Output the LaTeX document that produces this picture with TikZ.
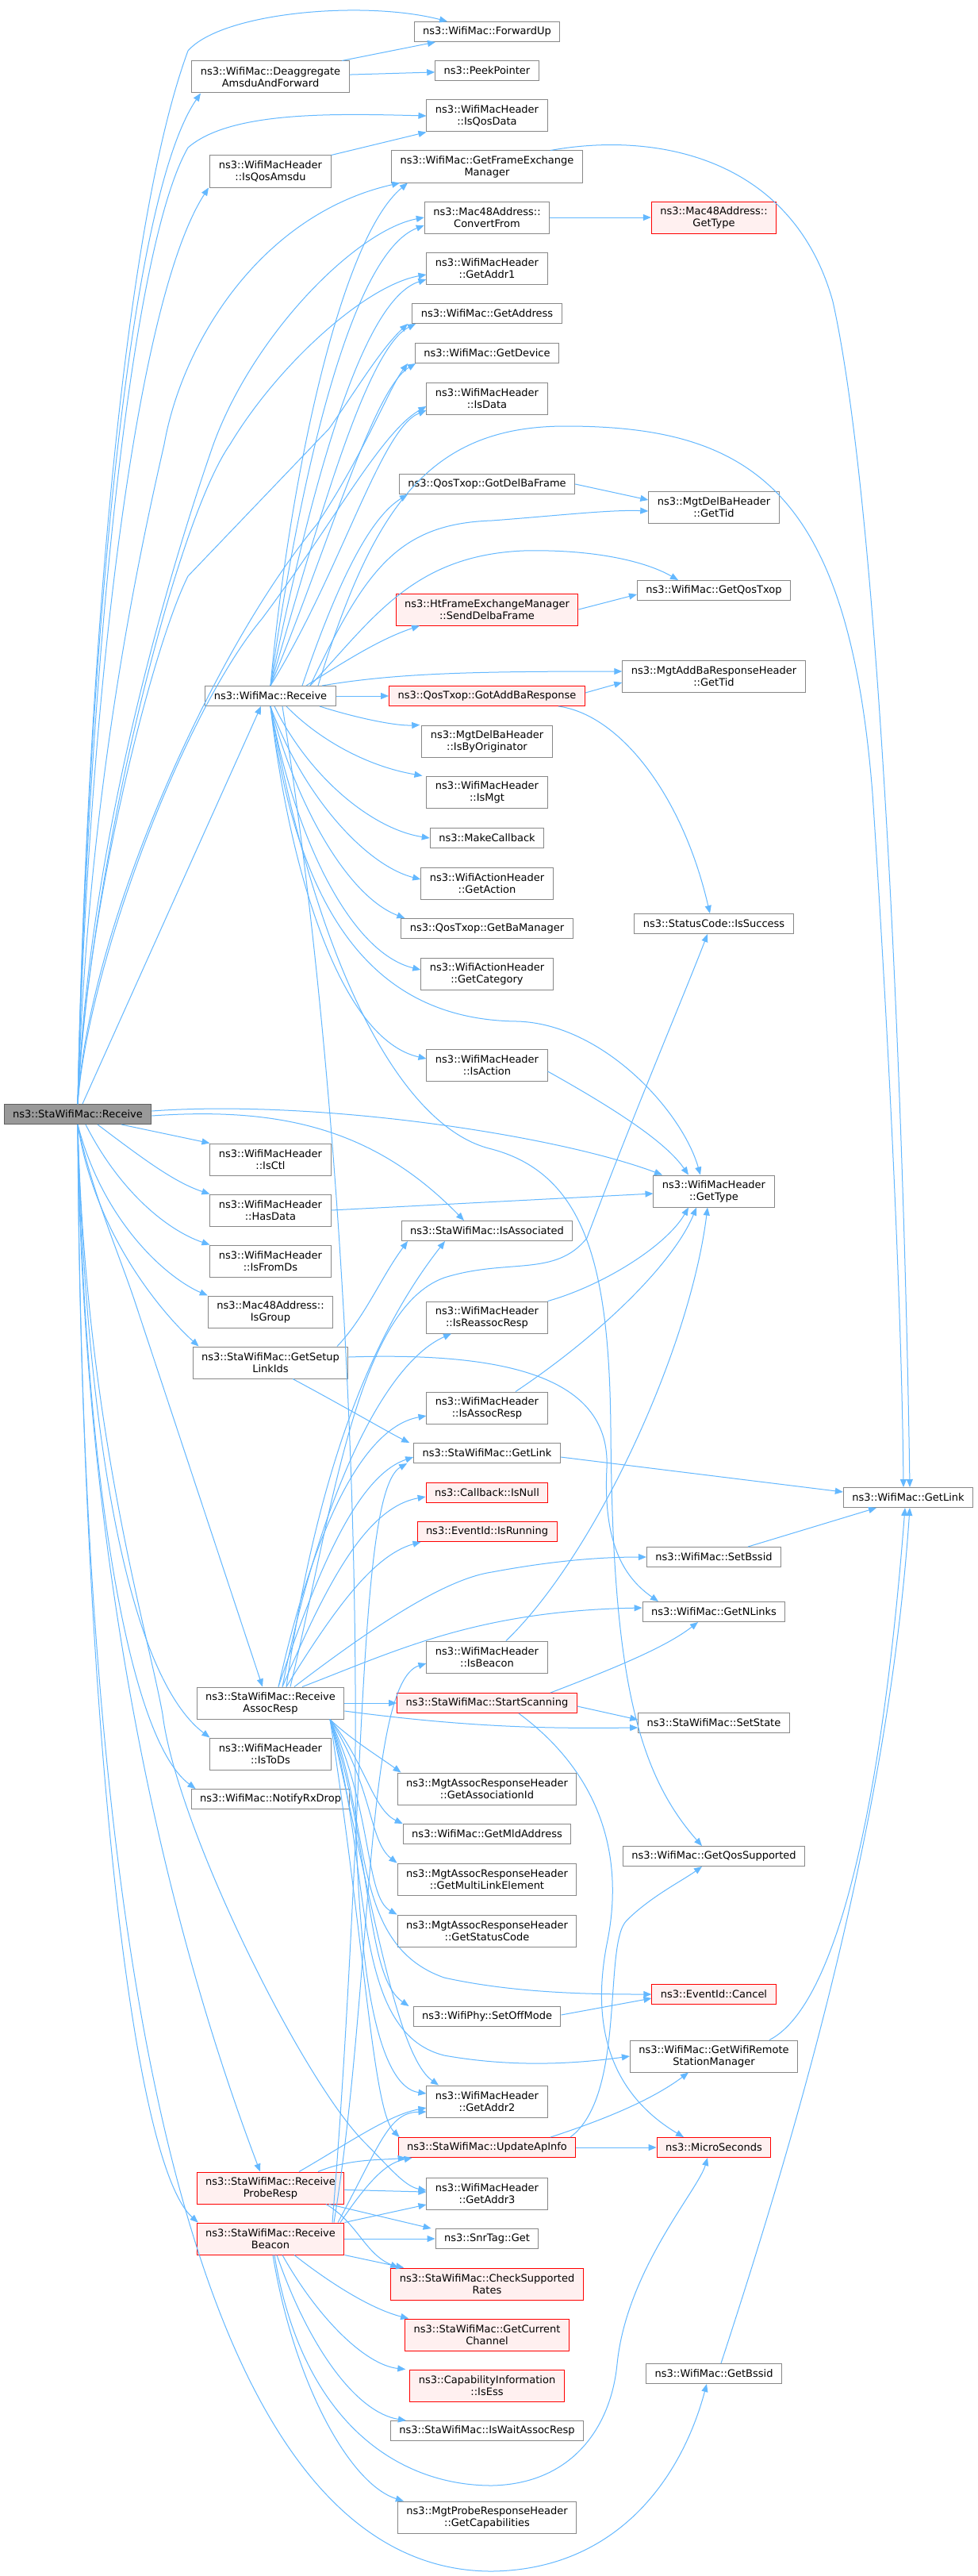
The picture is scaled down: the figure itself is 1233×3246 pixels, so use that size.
\documentclass[tikz,border=0pt]{standalone}
\usepackage{fontspec}
\setmainfont{DejaVu Sans}
\usetikzlibrary{arrows.meta}
\definecolor{edgeblue}{HTML}{63B8FF}
\definecolor{boxgray}{HTML}{888888}
\definecolor{rootgray}{HTML}{999999}
\definecolor{extfill}{HTML}{FFF0F0}
\begin{document}
\begin{tikzpicture}[x=1pt,y=1pt,
  fn/.style={draw=boxgray,fill=white,line width=1pt,inner xsep=11pt,inner ysep=4pt,
    minimum height=25pt,align=center,font=\fontsize{13}{15}\selectfont},
  tall/.style={minimum height=40pt},
  ext/.style={fn,draw=red,fill=extfill},
  rootfn/.style={fn,draw=boxgray!70!black,fill=rootgray},
  call/.style={draw=edgeblue,line width=1pt,-{Triangle[length=10pt,width=8pt]}}]

\fill[white] (0,0) rectangle (1233,-3246);
\useasboundingbox (0,0) rectangle (1233,-3246);

% the function itself
\node[rootfn] (root) at (98,-1404) {ns3::StaWifiMac::Receive};

% direct callees
\node[fn,tall] (deagg) at (341,-97) {ns3::WifiMac::Deaggregate\\AmsduAndForward};
\node[fn,tall] (qosAmsdu) at (341,-216) {ns3::WifiMacHeader\\::IsQosAmsdu};
\node[fn] (wmRecv) at (341,-877) {ns3::WifiMac::Receive};
\node[fn,tall] (isCtl) at (341,-1461) {ns3::WifiMacHeader\\::IsCtl};
\node[fn,tall] (hasData) at (341,-1525) {ns3::WifiMacHeader\\::HasData};
\node[fn,tall] (fromDs) at (341,-1589) {ns3::WifiMacHeader\\::IsFromDs};
\node[fn,tall] (isGroup) at (341,-1653) {ns3::Mac48Address::\\IsGroup};
\node[fn,tall] (setupLinks) at (341,-1717) {ns3::StaWifiMac::GetSetup\\LinkIds};
\node[fn,tall] (assocResp) at (341,-2146) {ns3::StaWifiMac::Receive\\AssocResp};
\node[fn,tall] (toDs) at (341,-2210) {ns3::WifiMacHeader\\::IsToDs};
\node[fn] (rxDrop) at (341,-2267) {ns3::WifiMac::NotifyRxDrop};
\node[ext,tall] (probeResp) at (341,-2757) {ns3::StaWifiMac::Receive\\ProbeResp};
\node[ext,tall] (beacon) at (341,-2821) {ns3::StaWifiMac::Receive\\Beacon};

% second level
\node[fn] (fwdUp) at (614,-40) {ns3::WifiMac::ForwardUp};
\node[fn] (peek) at (614,-89) {ns3::PeekPointer};
\node[fn,tall] (qosData) at (614,-146) {ns3::WifiMacHeader\\::IsQosData};
\node[fn,tall] (getFem) at (614,-210) {ns3::WifiMac::GetFrameExchange\\Manager};
\node[fn,tall] (convFrom) at (614,-274) {ns3::Mac48Address::\\ConvertFrom};
\node[fn,tall] (addr1) at (614,-338) {ns3::WifiMacHeader\\::GetAddr1};
\node[fn] (getAddress) at (614,-395) {ns3::WifiMac::GetAddress};
\node[fn] (getDevice) at (614,-445) {ns3::WifiMac::GetDevice};
\node[fn,tall] (isData) at (614,-502) {ns3::WifiMacHeader\\::IsData};
\node[fn] (gotDelBa) at (614,-610) {ns3::QosTxop::GotDelBaFrame};
\node[ext,tall] (sendDelba) at (614,-768) {ns3::HtFrameExchangeManager\\::SendDelbaFrame};
\node[ext] (gotAddBa) at (614,-877) {ns3::QosTxop::GotAddBaResponse};
\node[fn,tall] (isByOrig) at (614,-934) {ns3::MgtDelBaHeader\\::IsByOriginator};
\node[fn,tall] (isMgt) at (614,-998) {ns3::WifiMacHeader\\::IsMgt};
\node[fn] (makeCb) at (614,-1056) {ns3::MakeCallback};
\node[fn,tall] (getAction) at (614,-1113) {ns3::WifiActionHeader\\::GetAction};
\node[fn] (getBaMgr) at (614,-1170) {ns3::QosTxop::GetBaManager};
\node[fn,tall] (getCategory) at (614,-1227) {ns3::WifiActionHeader\\::GetCategory};
\node[fn,tall] (isAction) at (614,-1342) {ns3::WifiMacHeader\\::IsAction};
\node[fn] (isAssoc) at (614,-1551) {ns3::StaWifiMac::IsAssociated};
\node[fn,tall] (isReassoc) at (614,-1660) {ns3::WifiMacHeader\\::IsReassocResp};
\node[fn,tall] (isAssocResp) at (614,-1774) {ns3::WifiMacHeader\\::IsAssocResp};
\node[fn] (staGetLink) at (614,-1831) {ns3::StaWifiMac::GetLink};
\node[ext] (cbNull) at (614,-1881) {ns3::Callback::IsNull};
\node[ext] (isRunning) at (614,-1930) {ns3::EventId::IsRunning};
\node[fn,tall] (isBeacon) at (614,-2088) {ns3::WifiMacHeader\\::IsBeacon};
\node[ext] (startScan) at (614,-2146) {ns3::StaWifiMac::StartScanning};
\node[fn,tall] (assocId) at (614,-2254) {ns3::MgtAssocResponseHeader\\::GetAssociationId};
\node[fn] (mldAddr) at (614,-2311) {ns3::WifiMac::GetMldAddress};
\node[fn,tall] (multiLink) at (614,-2368) {ns3::MgtAssocResponseHeader\\::GetMultiLinkElement};
\node[fn,tall] (statusCode) at (614,-2433) {ns3::MgtAssocResponseHeader\\::GetStatusCode};
\node[fn] (setOff) at (614,-2541) {ns3::WifiPhy::SetOffMode};
\node[fn,tall] (addr2) at (614,-2648) {ns3::WifiMacHeader\\::GetAddr2};
\node[ext] (updateAp) at (614,-2706) {ns3::StaWifiMac::UpdateApInfo};
\node[fn,tall] (addr3) at (614,-2764) {ns3::WifiMacHeader\\::GetAddr3};
\node[fn] (snrGet) at (614,-2821) {ns3::SnrTag::Get};
\node[ext,tall] (checkRates) at (614,-2878) {ns3::StaWifiMac::CheckSupported\\Rates};
\node[ext,tall] (curChan) at (614,-2942) {ns3::StaWifiMac::GetCurrent\\Channel};
\node[ext,tall] (isEss) at (614,-3006) {ns3::CapabilityInformation\\::IsEss};
\node[fn] (waitAssoc) at (614,-3063) {ns3::StaWifiMac::IsWaitAssocResp};
\node[fn,tall] (probeCaps) at (614,-3172) {ns3::MgtProbeResponseHeader\\::GetCapabilities};

% third level
\node[ext,tall] (macGetType) at (900,-274) {ns3::Mac48Address::\\GetType};
\node[fn,tall] (delBaTid) at (900,-639) {ns3::MgtDelBaHeader\\::GetTid};
\node[fn] (getQosTxop) at (900,-744) {ns3::WifiMac::GetQosTxop};
\node[fn,tall] (addBaTid) at (900,-852) {ns3::MgtAddBaResponseHeader\\::GetTid};
\node[fn] (isSuccess) at (900,-1164) {ns3::StatusCode::IsSuccess};
\node[fn,tall] (getType) at (900,-1501) {ns3::WifiMacHeader\\::GetType};
\node[fn] (setBssid) at (900,-1962) {ns3::WifiMac::SetBssid};
\node[fn] (getNLinks) at (900,-2031) {ns3::WifiMac::GetNLinks};
\node[fn] (setState) at (900,-2171) {ns3::StaWifiMac::SetState};
\node[fn] (qosSupp) at (900,-2339) {ns3::WifiMac::GetQosSupported};
\node[ext] (evCancel) at (900,-2513) {ns3::EventId::Cancel};
\node[fn,tall] (remoteMgr) at (900,-2591) {ns3::WifiMac::GetWifiRemote\\StationManager};
\node[ext] (micro) at (900,-2706) {ns3::MicroSeconds};
\node[fn] (getBssid) at (900,-2991) {ns3::WifiMac::GetBssid};
\node[fn] (wmGetLink) at (1145,-1887) {ns3::WifiMac::GetLink};

% calls from the root, upwards
\draw[call] (root.north) .. controls (108,-900) and (150,-300) .. (237,-64) .. controls (280,-15) and (460,0) .. ([xshift=-50pt]fwdUp.north);
\draw[call] (root.north) .. controls (108,-900) and (155,-260) .. ([xshift=-88pt]deagg.south);
\draw[call] (root.north) .. controls (109,-900) and (160,-320) .. (237,-186) .. controls (290,-140) and (420,-143) .. (qosData.west);
\draw[call] (root.north) .. controls (110,-900) and (170,-380) .. ([xshift=-78pt]qosAmsdu.south);
\draw[call] (root.north) .. controls (110,-1000) and (175,-700) .. (207,-560) .. controls (230,-430) and (330,-270) .. ([xshift=-110pt]getFem.south);
\draw[call] (root.north) .. controls (112,-1050) and (220,-700) .. (269,-560) .. controls (320,-420) and (450,-290) .. (convFrom.west);
\draw[call] (root.north) .. controls (112,-1100) and (220,-660) .. (290,-560) .. controls (350,-460) and (460,-360) .. ([yshift=-8pt]addr1.west);
\draw[call] (root.north) .. controls (108,-1150) and (190,-820) .. (237,-726) -- (415,-540) .. controls (450,-490) and (480,-440) .. ([xshift=-100pt]getAddress.south);
\draw[call] (root.north) .. controls (110,-1180) and (260,-830) .. (400,-660) .. controls (460,-570) and (490,-490) .. ([xshift=-100pt]getDevice.south);
\draw[call] (root.north) .. controls (110,-1220) and (230,-900) .. (330,-780) .. controls (420,-660) and (480,-545) .. ([yshift=-10pt]isData.west);
\draw[call] ([xshift=6pt]root.north) -- ([xshift=-12pt]wmRecv.south);
\draw[call] ([yshift=4pt]root.east) .. controls (400,-1385) and (700,-1430) .. ([xshift=-65pt]getType.north);
\draw[call] ([yshift=-2pt]root.east) .. controls (350,-1395) and (470,-1420) .. ([xshift=-29pt]isAssoc.north);

% calls from the root, downwards
\draw[call] ([xshift=55pt]root.south) -- (isCtl.north west);
\draw[call] ([xshift=25pt]root.south) .. controls (180,-1460) and (220,-1490) .. (hasData.north west);
\draw[call] ([xshift=10pt]root.south) .. controls (150,-1500) and (210,-1550) .. (fromDs.north west);
\draw[call] (root.south) .. controls (130,-1540) and (210,-1610) .. (isGroup.north west);
\draw[call] (root.south) .. controls (120,-1560) and (210,-1660) .. ([xshift=8pt]setupLinks.north west);
\draw[call] (root.south) .. controls (115,-1500) and (150,-1580) .. (170,-1640) -- ([xshift=-10pt]assocResp.north);
\draw[call] (root.south) .. controls (108,-1800) and (160,-2110) .. (toDs.north west);
\draw[call] (root.south) .. controls (106,-1850) and (160,-2190) .. ([xshift=6pt]rxDrop.north west);
\draw[call] (root.south) .. controls (104,-1950) and (200,-2400) .. ([xshift=-13pt]probeResp.north);
\draw[call] (root.south) .. controls (102,-2100) and (160,-2720) .. ([xshift=2pt]beacon.north west);
\draw[call] (root.south) .. controls (108,-1800) and (185,-2050) .. (205,-2160) .. controls (222,-2300) and (380,-2620) .. (460,-2700) .. controls (490,-2730) and (510,-2755) .. ([yshift=4pt]addr3.west);
\draw[call] (root.south) .. controls (104,-2700) and (300,-3240) .. (620,-3240) .. controls (780,-3238) and (860,-3120) .. ([xshift=-9pt]getBssid.south);

% WifiMac::Receive
\draw[call] (wmRecv.north) .. controls (365,-600) and (430,-300) .. ([xshift=-100pt]getFem.south);
\draw[call] (wmRecv.north) .. controls (375,-620) and (440,-320) .. ([yshift=-10pt]convFrom.west);
\draw[call] (wmRecv.north) .. controls (385,-650) and (450,-380) .. ([yshift=-14pt]addr1.west);
\draw[call] (wmRecv.north) .. controls (395,-680) and (460,-440) .. ([xshift=-90pt]getAddress.south);
\draw[call] (wmRecv.north) .. controls (410,-700) and (470,-490) .. ([xshift=-90pt]getDevice.south);
\draw[call] (wmRecv.north) .. controls (430,-720) and (480,-540) .. ([yshift=-15pt]isData.west);
\draw[call] ([xshift=60pt]wmRecv.north) .. controls (470,-640) and (540,-537) .. (713,-537) .. controls (950,-537) and (1070,-620) .. (1100,-1000) .. controls (1120,-1300) and (1137,-1650) .. ([xshift=-6pt]wmGetLink.north);
\draw[call] ([xshift=40pt]wmRecv.north) .. controls (430,-720) and (470,-650) .. ([xshift=-100pt]gotDelBa.south);
\draw[call] ([xshift=50pt]wmRecv.north) .. controls (460,-720) and (500,-660) .. (620,-656) .. controls (700,-650) and (770,-642) .. ([yshift=-5pt]delBaTid.west);
\draw[call] ([xshift=50pt]wmRecv.north) .. controls (470,-780) and (520,-700) .. (660,-694) .. controls (740,-692) and (810,-705) .. ([xshift=-45pt]getQosTxop.north);
\draw[call] ([xshift=45pt]wmRecv.north) .. controls (440,-830) and (480,-805) .. ([xshift=-85pt]sendDelba.south);
\draw[call] ([xshift=65pt]wmRecv.north) .. controls (500,-848) and (600,-846) .. ([yshift=6pt]addBaTid.west);
\draw[call] (wmRecv) -- (gotAddBa);
\draw[call] ([xshift=62pt]wmRecv.south) .. controls (450,-905) and (500,-915) .. ([xshift=-2pt]isByOrig.north west);
\draw[call] ([xshift=20pt]wmRecv.south) .. controls (400,-930) and (460,-965) .. ([xshift=-5pt]isMgt.north west);
\draw[call] ([xshift=5pt]wmRecv.south) .. controls (390,-980) and (470,-1045) .. (makeCb.west);
\draw[call] (wmRecv.south) .. controls (380,-1000) and (460,-1090) .. ([yshift=5pt]getAction.west);
\draw[call] (wmRecv.south) .. controls (375,-1020) and (440,-1130) .. ([xshift=5pt]getBaMgr.north west);
\draw[call] (wmRecv.south) .. controls (370,-1050) and (440,-1200) .. ([yshift=5pt]getCategory.west);
\draw[call] (wmRecv.south) .. controls (365,-1100) and (430,-1310) .. ([yshift=8pt]isAction.west);
\draw[call] (wmRecv.south) .. controls (375,-1150) and (470,-1285) .. (652,-1287) .. controls (760,-1290) and (860,-1400) .. ([xshift=-17pt]getType.north);
\draw[call] (wmRecv.south) .. controls (395,-1200) and (500,-1420) .. (620,-1448) .. controls (740,-1480) and (768,-1600) .. (770,-1800) .. controls (772,-2100) and (800,-2230) .. ([xshift=-15pt]qosSupp.north);
\draw[call] ([xshift=15pt]wmRecv.south) .. controls (420,-1300) and (450,-1800) .. (448,-2200) .. controls (446,-2500) and (480,-2630) .. ([yshift=10pt]addr2.west);

% short calls
\draw[call] ([xshift=90pt]deagg.north) -- ([xshift=-65pt]fwdUp.south);
\draw[call] (deagg) -- (peek);
\draw[call] (qosAmsdu.north east) -- (qosData.south west);
\draw[call] (convFrom) -- (macGetType);
\draw[call] ([xshift=80pt]getFem.north) .. controls (830,-165) and (1000,-200) .. (1050,-380) .. controls (1110,-650) and (1140,-1400) .. ([xshift=2pt]wmGetLink.north);
\draw[call] (gotDelBa.east) -- ([yshift=9pt]delBaTid.west);
\draw[call] (sendDelba.east) -- ([yshift=-5pt]getQosTxop.west);
\draw[call] ([yshift=4pt]gotAddBa.east) -- ([yshift=-8pt]addBaTid.west);
\draw[call] ([xshift=90pt]gotAddBa.south) .. controls (780,-900) and (860,-1000) .. ([xshift=-5pt]isSuccess.north);
\draw[call] ([yshift=-8pt]isAction.east) .. controls (780,-1400) and (840,-1440) .. ([xshift=-32pt]getType.north);
\draw[call] (hasData.east) -- ([yshift=-3pt]getType.west);
\draw[call] (isReassoc.north east) .. controls (760,-1620) and (840,-1570) .. ([xshift=-32pt]getType.south);
\draw[call] ([xshift=36pt]isAssocResp.north) .. controls (760,-1680) and (850,-1590) .. ([xshift=-22pt]getType.south);
\draw[call] ([xshift=24pt]isBeacon.north) .. controls (750,-1960) and (870,-1700) .. ([xshift=-8pt]getType.south);

% GetSetupLinkIds
\draw[call] ([xshift=84pt]setupLinks.north) .. controls (460,-1660) and (480,-1610) .. ([xshift=-100pt]isAssoc.south);
\draw[call] ([yshift=7pt]setupLinks.east) .. controls (650,-1703) and (770,-1740) .. (765,-1850) .. controls (760,-1950) and (790,-1990) .. ([xshift=-70pt]getNLinks.north);
\draw[call] ([xshift=28pt]setupLinks.south) .. controls (430,-1770) and (490,-1805) .. ([xshift=-5pt]staGetLink.north west);

% ReceiveAssocResp
\draw[call] ([xshift=15pt]assocResp.north) .. controls (400,-1900) and (480,-1720) .. ([xshift=-45pt]isReassoc.south);
\draw[call] ([xshift=10pt]assocResp.north) .. controls (390,-1950) and (450,-1800) .. ([yshift=-10pt]isAssocResp.west);
\draw[call] ([xshift=10pt]assocResp.north) .. controls (400,-1980) and (450,-1860) .. ([yshift=-5pt]staGetLink.west);
\draw[call] ([xshift=15pt]assocResp.north) .. controls (410,-2000) and (460,-1900) .. ([yshift=-5pt]cbNull.west);
\draw[call] ([xshift=20pt]assocResp.north) .. controls (420,-2030) and (470,-1960) .. ([xshift=5pt]isRunning.south west);
\draw[call] ([xshift=30pt]assocResp.north) .. controls (470,-2050) and (560,-1990) .. (620,-1981) .. controls (700,-1966) and (760,-1962) .. (setBssid.west);
\draw[call] ([xshift=40pt]assocResp.north) .. controls (500,-2080) and (600,-2030) .. ([yshift=5pt]getNLinks.west);
\draw[call] ([xshift=25pt]assocResp.north) .. controls (420,-1900) and (450,-1650) .. (560,-1610) .. controls (640,-1585) and (700,-1610) .. (740,-1560) .. controls (800,-1400) and (860,-1260) .. ([xshift=-8pt]isSuccess.south);
\draw[call] ([xshift=20pt]assocResp.north) .. controls (400,-1850) and (470,-1680) .. ([xshift=-53pt]isAssoc.south);
\draw[call] (assocResp) -- (startScan);
\draw[call] ([yshift=-10pt]assocResp.east) .. controls (600,-2178) and (700,-2178) .. ([yshift=-6pt]setState.west);
\draw[call] ([xshift=75pt]assocResp.south) .. controls (440,-2190) and (480,-2215) .. ([xshift=5pt]assocId.north west);
\draw[call] ([xshift=75pt]assocResp.south) .. controls (460,-2220) and (470,-2280) .. (mldAddr.north west);
\draw[call] ([xshift=75pt]assocResp.south) .. controls (470,-2250) and (465,-2320) .. (multiLink.north west);
\draw[call] ([xshift=75pt]assocResp.south) .. controls (470,-2280) and (460,-2390) .. (statusCode.north west);
\draw[call] ([xshift=75pt]assocResp.south) .. controls (470,-2300) and (440,-2450) .. (560,-2492) .. controls (650,-2512) and (750,-2513) .. (evCancel.west);
\draw[call] ([xshift=75pt]assocResp.south) .. controls (470,-2330) and (460,-2490) .. ([xshift=-5pt]setOff.north west);
\draw[call] ([xshift=75pt]assocResp.south) .. controls (470,-2350) and (440,-2560) .. (560,-2590) .. controls (650,-2606) and (730,-2600) .. (remoteMgr.west);
\draw[call] ([xshift=75pt]assocResp.south) .. controls (470,-2400) and (500,-2590) .. ([xshift=-61pt]addr2.north);
\draw[call] ([xshift=75pt]assocResp.south) .. controls (460,-2450) and (470,-2660) .. ([xshift=2pt]updateAp.north west);

% StartScanning, UpdateApInfo and the rest
\draw[call] ([xshift=80pt]startScan.north) .. controls (780,-2100) and (840,-2075) .. ([xshift=-20pt]getNLinks.south);
\draw[call] ([yshift=-4pt]startScan.east) -- ([yshift=4pt]setState.west);
\draw[call] ([xshift=40pt]startScan.south) .. controls (750,-2230) and (790,-2330) .. (765,-2450) .. controls (740,-2580) and (790,-2650) .. ([xshift=-38pt]micro.north);
\draw[call] (updateAp) -- (micro);
\draw[call] ([xshift=80pt]updateAp.north) .. controls (780,-2665) and (830,-2640) .. ([xshift=-32pt]remoteMgr.south);
\draw[call] ([xshift=105pt]updateAp.north) .. controls (790,-2640) and (760,-2450) .. (790,-2420) .. controls (820,-2390) and (860,-2370) .. ([xshift=-15pt]qosSupp.south);
\draw[call] ([yshift=2pt]setOff.east) -- ([yshift=-5pt]evCancel.west);
\draw[call] ([xshift=70pt]remoteMgr.north) .. controls (1050,-2530) and (1110,-2300) .. ([xshift=-4pt]wmGetLink.south);
\draw[call] ([xshift=9pt]getBssid.north) .. controls (1000,-2700) and (1120,-2300) .. ([xshift=2pt]wmGetLink.south);
\draw[call] ([yshift=-5pt]staGetLink.east) -- ([yshift=7pt]wmGetLink.west);
\draw[call] ([xshift=43pt]setBssid.north) -- ([xshift=-40pt]wmGetLink.south);

% ReceiveProbeResp
\draw[call] ([xshift=36pt]probeResp.north) .. controls (440,-2700) and (490,-2665) .. ([yshift=-8pt]addr2.west);
\draw[call] (probeResp) -- (addr3);
\draw[call] ([xshift=74pt]probeResp.south) -- ([xshift=-5pt]snrGet.north west);
\draw[call] ([xshift=70pt]probeResp.south) .. controls (450,-2800) and (460,-2840) .. ([xshift=10pt]checkRates.north west);
\draw[call] ([xshift=60pt]probeResp.north) .. controls (440,-2720) and (480,-2722) .. ([xshift=10pt]updateAp.south west);

% ReceiveBeacon
\draw[call] (beacon.north east) -- ([yshift=-14pt]addr3.west);
\draw[call] (beacon) -- (snrGet);
\draw[call] (beacon.south east) -- ([xshift=17pt]checkRates.north west);
\draw[call] ([xshift=30pt]beacon.south) .. controls (420,-2880) and (470,-2910) .. ([xshift=5pt]curChan.north west);
\draw[call] ([xshift=15pt]beacon.south) .. controls (400,-2920) and (460,-2980) .. ([xshift=-5pt]isEss.north west);
\draw[call] ([xshift=8pt]beacon.south) .. controls (390,-2960) and (450,-3040) .. ([xshift=20pt]waitAssoc.north west);
\draw[call] ([xshift=3pt]beacon.south) .. controls (370,-3000) and (440,-3130) .. ([xshift=8pt]probeCaps.north west);
\draw[call] ([xshift=5pt]beacon.south) .. controls (380,-3050) and (500,-3132) .. (620,-3132) .. controls (720,-3130) and (770,-3060) .. (778,-2979) .. controls (790,-2860) and (880,-2760) .. ([xshift=-8pt]micro.south);
\draw[call] ([xshift=80pt]beacon.north) .. controls (470,-2500) and (460,-2120) .. ([yshift=-8pt]isBeacon.west);
\draw[call] ([xshift=85pt]beacon.north) .. controls (480,-2700) and (490,-2662) .. ([yshift=-13pt]addr2.west);
\draw[call] ([xshift=88pt]beacon.north) .. controls (470,-2740) and (490,-2725) .. ([xshift=18pt]updateAp.south west);
\draw[call] ([xshift=78pt]beacon.north) .. controls (460,-2300) and (450,-1880) .. ([xshift=-8pt]staGetLink.south west);

\end{tikzpicture}
\end{document}
